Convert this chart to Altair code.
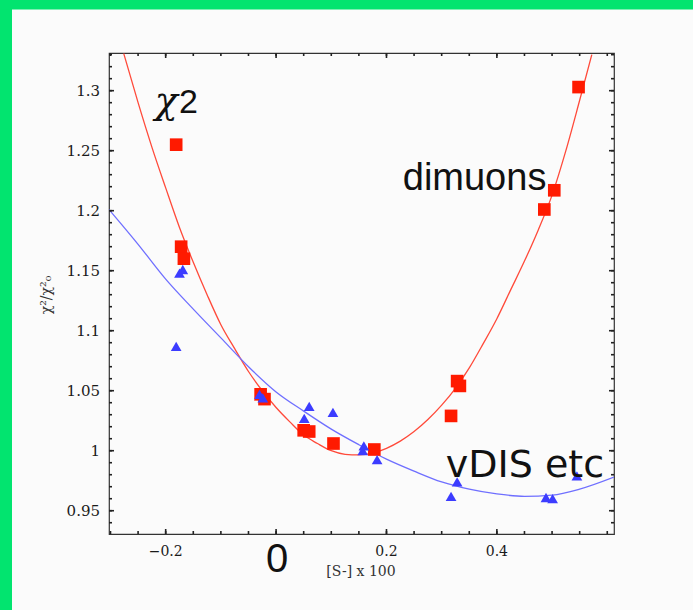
import altair as alt
import pandas as pd

# ---------------- data ----------------
# dimuons (red squares)
red_x = [-0.181, -0.172, -0.167, -0.028, -0.021, 0.050, 0.060, 0.104, 0.178,
         0.317, 0.328, 0.333, 0.486, 0.504, 0.548]
red_y = [1.255, 1.170, 1.160, 1.047, 1.043, 1.017, 1.016, 1.006, 1.001,
         1.029, 1.058, 1.054, 1.201, 1.217, 1.303]

# nuDIS etc (blue triangles)
blue_x = [-0.181, -0.175, -0.169, -0.030, -0.024, 0.051, 0.060, 0.103, 0.157,
          0.159, 0.183, 0.317, 0.328, 0.489, 0.501, 0.545]
blue_y = [1.087, 1.148, 1.151, 1.047, 1.044, 1.027, 1.037, 1.032, 1.000,
          1.004, 0.9925, 0.962, 0.974, 0.961, 0.960, 0.979]

# fitted curves (read by eye)
red_cx = [-0.276, -0.25, -0.225, -0.20, -0.175, -0.15, -0.125, -0.10, -0.075,
          -0.05, -0.025, 0.0, 0.025, 0.05, 0.075, 0.10, 0.125, 0.15, 0.175,
          0.20, 0.225, 0.25, 0.275, 0.30, 0.325, 0.35, 0.375, 0.40, 0.425,
          0.45, 0.475, 0.50, 0.525, 0.55, 0.572]
red_cy = [1.331, 1.290, 1.253, 1.219, 1.186, 1.157, 1.130, 1.105, 1.085,
          1.066, 1.050, 1.036, 1.024, 1.013, 1.006, 1.000, 0.997, 0.9965, 0.998,
          1.002, 1.008, 1.016, 1.026, 1.038, 1.052, 1.069, 1.089, 1.110, 1.134,
          1.158, 1.184, 1.213, 1.250, 1.292, 1.330]

blue_cx = [-0.3027, -0.25, -0.20, -0.15, -0.10, -0.05, 0.0, 0.05, 0.10, 0.15,
           0.20, 0.25, 0.30, 0.35, 0.40, 0.45, 0.50, 0.55, 0.6122]
blue_cy = [1.201, 1.172, 1.143, 1.118, 1.094, 1.070, 1.049, 1.033, 1.018, 1.005,
           0.993, 0.983, 0.974, 0.968, 0.964, 0.962, 0.963, 0.968, 0.978]

# axis ticks / labels
x_label_vals = [-0.2, 0.2, 0.4]          # the 0 label is replaced by the big "0"
x_major_ticks = [-0.2, 0, 0.2, 0.4]
x_minor_ticks = [-0.3, -0.25, -0.2, -0.15, -0.1, -0.05, 0, 0.05, 0.1, 0.15,
                 0.2, 0.25, 0.3, 0.35, 0.4, 0.45, 0.5, 0.55, 0.6]
y_label_vals = [0.95, 1.0, 1.05, 1.1, 1.15, 1.2, 1.25, 1.3]
y_minor_ticks = [0.94, 0.95, 0.96, 0.97, 0.98, 0.99, 1.0, 1.01, 1.02, 1.03,
                 1.04, 1.05, 1.06, 1.07, 1.08, 1.09, 1.1, 1.11, 1.12, 1.13,
                 1.14, 1.15, 1.16, 1.17, 1.18, 1.19, 1.2, 1.21, 1.22, 1.23,
                 1.24, 1.25, 1.26, 1.27, 1.28, 1.29, 1.3, 1.31, 1.32, 1.33]
x_title = "[S-] x 100"
y_title = "χ²/χ²₀"

# annotations (data coordinates)
ann_text = ["dimuons", "vDIS etc", "χ", "2", "0"]
ann_x = [0.2295, 0.3074, -0.2197, -0.176, 0.002]
ann_y = [1.2175, 0.9783, 1.2817, 1.2817, 0.8992]

# ---------------- chart ----------------
W, H = 505, 481
XS = alt.Scale(domain=[-0.3027, 0.6122], nice=False, zero=False)
YS = alt.Scale(domain=[0.9306, 1.3314], nice=False, zero=False)
GREEN = "#02e46f"
LABEL_FONT = "DejaVu Serif"

one = pd.DataFrame({"a": [0]})
green_left = alt.Chart(one).mark_rect(color=GREEN).encode(
    x=alt.value(-109), x2=alt.value(-97), y=alt.value(-53), y2=alt.value(557)
)
green_top = alt.Chart(one).mark_rect(color=GREEN).encode(
    x=alt.value(-109), x2=alt.value(584), y=alt.value(-53), y2=alt.value(-43.5)
)

red_df = pd.DataFrame({"x": red_x, "y": red_y})
blue_df = pd.DataFrame({"x": blue_x, "y": blue_y})
rc_df = pd.DataFrame({"x": red_cx, "y": red_cy})
bc_df = pd.DataFrame({"x": blue_cx, "y": blue_cy})

x_axis = alt.Axis(ticks=False, labels=False, grid=False, title=None, zindex=2,
                  domainWidth=2.5, domainColor="#111")
y_axis = alt.Axis(ticks=False, labels=False, grid=False, title=None, zindex=2,
                  domainWidth=2, domainColor="#111")

red_curve = alt.Chart(rc_df).mark_line(
    color="#ff4a3a", strokeWidth=1.3, clip=True, interpolate="monotone"
).encode(x=alt.X("x:Q", scale=XS, axis=x_axis), y=alt.Y("y:Q", scale=YS, axis=y_axis))

blue_curve = alt.Chart(bc_df).mark_line(
    color="#6f6fff", strokeWidth=1.3, clip=True, interpolate="monotone"
).encode(x=alt.X("x:Q", scale=XS, axis=None), y=alt.Y("y:Q", scale=YS, axis=None))

red_pts = alt.Chart(red_df).mark_point(
    shape="square", filled=True, size=160, color="#ff1a00", opacity=1
).encode(x=alt.X("x:Q", scale=XS, axis=None), y=alt.Y("y:Q", scale=YS, axis=None))

blue_pts = alt.Chart(blue_df).mark_point(
    shape="triangle-up", filled=True, size=115, color="#3c3cff", opacity=1
).encode(x=alt.X("x:Q", scale=XS, axis=None), y=alt.Y("y:Q", scale=YS, axis=None))

# inward frame ticks
xt_minor = pd.DataFrame({"v": x_minor_ticks})
xt_major = pd.DataFrame({"v": x_major_ticks})
yt_minor = pd.DataFrame({"v": y_minor_ticks})
yt_major = pd.DataFrame({"v": y_label_vals})

def xticks(df, y0, y1):
    return alt.Chart(df).mark_rule(color="#222", strokeWidth=1.6).encode(
        x=alt.X("v:Q", scale=XS, axis=None), y=alt.value(y0), y2=alt.value(y1)
    )

def yticks(df, x0, x1):
    return alt.Chart(df).mark_rule(color="#222", strokeWidth=1.6).encode(
        y=alt.Y("v:Q", scale=YS, axis=None), x=alt.value(x0), x2=alt.value(x1)
    )

ticks = [
    xticks(xt_minor, H, H - 3), xticks(xt_major, H, H - 5),
    xticks(xt_minor, 0, 3), xticks(xt_major, 0, 5),
    yticks(yt_minor, 0, 3), yticks(yt_major, 0, 5),
    yticks(yt_minor, W, W - 3), yticks(yt_major, W, W - 5),
]

# tick labels, placed through the scales
x_labels = alt.Chart(pd.DataFrame({"v": x_label_vals})).mark_text(
    font=LABEL_FONT, fontSize=14, color="#1a1a1a", baseline="middle", align="center"
).encode(
    x=alt.X("v:Q", scale=XS, axis=None), y=alt.value(H + 18),
    text=alt.Text("v:Q", format=".1f"),
)
y_labels = alt.Chart(pd.DataFrame({"v": y_label_vals})).mark_text(
    font=LABEL_FONT, fontSize=15, color="#1a1a1a", baseline="middle", align="right"
).encode(
    y=alt.Y("v:Q", scale=YS, axis=None), x=alt.value(-9),
    text=alt.Text("v:Q", format="~g"),
)
x_title_mark = alt.Chart(pd.DataFrame({"t": [x_title]})).mark_text(
    font=LABEL_FONT, fontSize=14, color="#333", baseline="middle", align="center"
).encode(x=alt.value(252), y=alt.value(H + 38), text="t:N")
y_title_mark = alt.Chart(pd.DataFrame({"t": [y_title]})).mark_text(
    font=LABEL_FONT, fontSize=14, color="#333", baseline="middle", align="center",
    angle=270
).encode(x=alt.value(-62), y=alt.value(242), text="t:N")

def ann(i, font, size, style="normal", align="left"):
    df = pd.DataFrame({"x": [ann_x[i]], "y": [ann_y[i]], "t": [ann_text[i]]})
    return alt.Chart(df).mark_text(
        font=font, fontSize=size, fontStyle=style, color="#111",
        align=align, baseline="alphabetic"
    ).encode(
        x=alt.X("x:Q", scale=XS, axis=None), y=alt.Y("y:Q", scale=YS, axis=None),
        text="t:N"
    )

t_dim = ann(0, "Liberation Sans", 38)
t_nu = ann(1, "DejaVu Sans", 38)
t_chi = ann(2, "DejaVu Serif", 38, "italic")
t_two = ann(3, "Liberation Sans", 34)
t_zero = ann(4, "Liberation Sans", 40, align="center")

chart = alt.layer(
    green_left, green_top, red_curve, blue_curve, *ticks, red_pts, blue_pts,
    x_labels, y_labels, x_title_mark, y_title_mark,
    t_dim, t_nu, t_chi, t_two, t_zero
).properties(
    width=W, height=H,
    autosize=alt.AutoSizeParams(type="none"),
    padding={"left": 109, "top": 53, "right": 79, "bottom": 76},
).configure(background="#fbfbfb").configure_view(stroke="#333", strokeWidth=1.2)

chart.save("out.html", embed_options={"renderer": "svg", "actions": False})
